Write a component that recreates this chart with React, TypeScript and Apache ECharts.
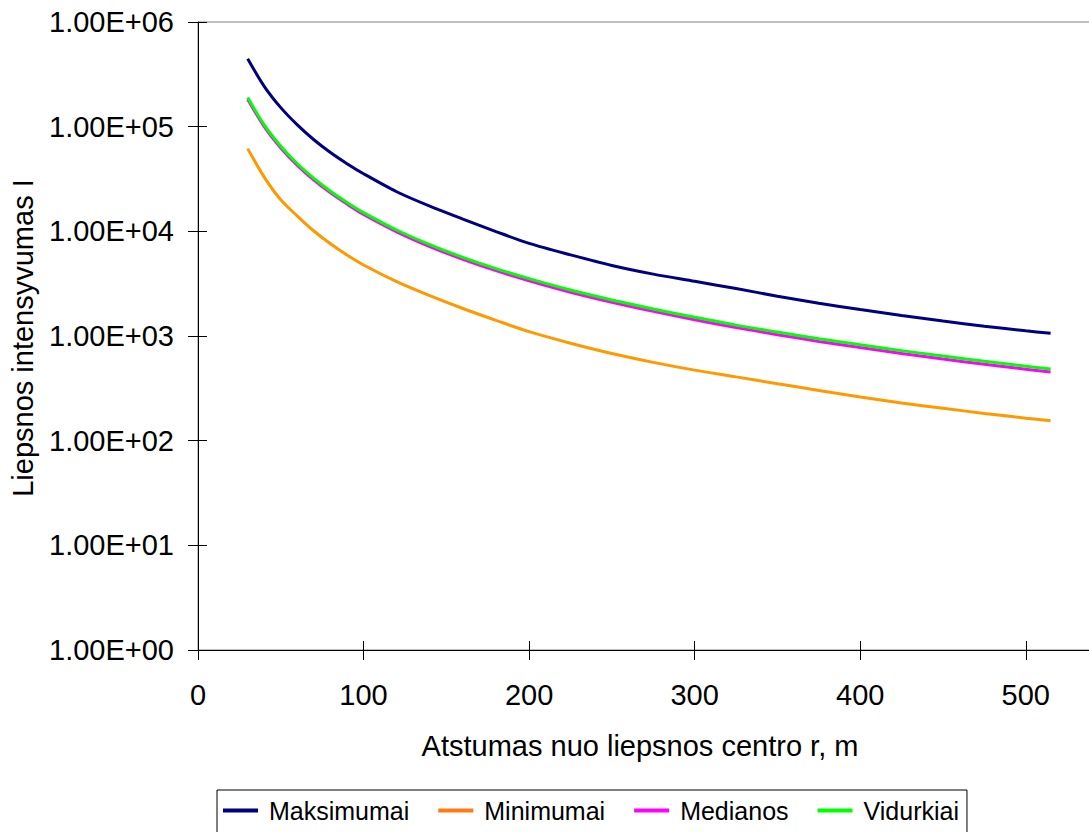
import { useEffect, useRef } from "react";
import * as echarts from "echarts";

// Distance from flame centre r, m
const distances = [30, 40, 50, 60, 70, 80, 90, 100, 120, 140, 160, 180, 200, 225, 250, 275, 300, 325, 350, 375, 400, 425, 450, 475, 500, 515];

const maksimumai = [445000, 243000, 152000, 104000, 75000, 56600, 44300, 35500, 23900, 17400, 13100, 9950, 7670, 5960, 4720, 3900, 3330, 2840, 2400, 2060, 1790, 1570, 1390, 1240, 1120, 1060];
const minimumai = [61700, 33000, 20000, 14000, 10070, 7600, 5940, 4770, 3310, 2430, 1830, 1410, 1100, 853, 680, 560, 472, 407, 350, 302, 261, 229, 204, 182, 164, 155];
const medianos = [183000, 100000, 62600, 42600, 30800, 23300, 18200, 14500, 9900, 7160, 5400, 4210, 3370, 2620, 2100, 1720, 1430, 1205, 1030, 888, 775, 681, 603, 537, 482, 453];
const vidurkiai = [190000, 104000, 65000, 44200, 32000, 24200, 18900, 15100, 10300, 7460, 5640, 4400, 3530, 2750, 2210, 1810, 1510, 1270, 1090, 942, 823, 725, 643, 574, 515, 484];

const seriesNames = ["Maksimumai", "Minimumai", "Medianos", "Vidurkiai"];
const seriesColors = ["#000080", "#FF9900", "#FF00FF", "#00FF00"];
const legendColors = ["#000080", "#FF7A10", "#FF00FF", "#00FF00"];

const yTickLabels = ["1.00E+00", "1.00E+01", "1.00E+02", "1.00E+03", "1.00E+04", "1.00E+05", "1.00E+06"];
const xTitle = "Atstumas nuo liepsnos centro r, m";
const yTitle = "Liepsnos intensyvumas I";

const FONT = '"Liberation Sans", Arial, sans-serif';

export default function App() {
  const ref = useRef<HTMLDivElement>(null);

  useEffect(() => {
    if (!ref.current) return;
    const chart = echarts.init(ref.current, null, { renderer: "svg" });
    const allData = [maksimumai, minimumai, medianos, vidurkiai];
    const pair = (ys: number[]) => distances.map((x, i) => [x, ys[i]]);
    const yFmt = (v: number) => {
      const k = Math.round(Math.log10(v));
      return yTickLabels[k] ?? "";
    };
    const xCommon = { type: "value", min: 0, max: 540, interval: 100, position: "bottom", splitLine: { show: false } };
    const yCommon = { type: "log", logBase: 10, min: 1, max: 1000000, position: "left", splitLine: { show: false } };

    chart.setOption({
      animation: false,
      backgroundColor: "#ffffff",
      textStyle: { fontFamily: FONT },
      grid: {
        left: 198,
        top: 22,
        width: 894,
        height: 628,
        show: true,
        borderColor: "#808080",
        borderWidth: 1,
        backgroundColor: "transparent",
      },
      xAxis: [
        {
          ...xCommon,
          axisLine: { show: true, lineStyle: { color: "#000", width: 1 } },
          axisTick: { show: true, length: 10, lineStyle: { color: "#000", width: 1 } },
          axisLabel: { fontSize: 29, color: "#000", margin: 30, showMaxLabel: false, fontFamily: FONT },
        },
        {
          ...xCommon,
          axisLine: { show: false },
          axisTick: { show: true, inside: true, length: 9, lineStyle: { color: "#000", width: 1 } },
          axisLabel: { show: false },
        },
      ],
      yAxis: [
        {
          ...yCommon,
          axisLine: { show: true, lineStyle: { color: "#000", width: 1 } },
          axisTick: { show: true, length: 10, lineStyle: { color: "#000", width: 1 } },
          axisLabel: { fontSize: 29, color: "#000", margin: 24, formatter: yFmt, fontFamily: FONT },
        },
        {
          ...yCommon,
          axisLine: { show: false },
          axisTick: { show: true, inside: true, length: 9, lineStyle: { color: "#000", width: 1 } },
          axisLabel: { show: false },
        },
      ],
      legend: {
        left: 217,
        top: 790,
        orient: "horizontal",
        padding: [8, 8, 12, 6],
        itemGap: 29,
        itemWidth: 35,
        itemHeight: 4,
        borderColor: "#000",
        borderWidth: 1,
        backgroundColor: "#fff",
        textStyle: { fontSize: 25, color: "#000", fontFamily: FONT, padding: [0, 0, 0, 6] },
        data: seriesNames.map((n, i) => ({ name: n, icon: "rect", itemStyle: { color: legendColors[i] } })),
      },
      series: seriesNames.map((n, i) => ({
        name: n,
        type: "line",
        xAxisIndex: 0,
        yAxisIndex: 0,
        data: pair(allData[i]),
        showSymbol: false,
        symbol: "none",
        smooth: 0.3,
        lineStyle: { color: seriesColors[i], width: 3 },
        itemStyle: { color: seriesColors[i] },
        z: 2 + i,
      })),
      graphic: [
        {
          type: "text",
          x: 640,
          y: 746,
          style: { text: xTitle, fontSize: 29, fontFamily: FONT, fill: "#000", align: "center", verticalAlign: "middle" },
        },
        {
          type: "text",
          x: 23,
          y: 338,
          rotation: Math.PI / 2,
          style: { text: yTitle, fontSize: 29, fontFamily: FONT, fill: "#000", align: "center", verticalAlign: "middle" },
        },
      ],
    });
    return () => chart.dispose();
  }, []);

  return (
    <div style={{ position: "fixed", left: 0, top: 0, width: 1089, height: 832, overflow: "hidden", background: "#fff" }}>
      <div ref={ref} style={{ width: 1100, height: 832 }} />
    </div>
  );
}
